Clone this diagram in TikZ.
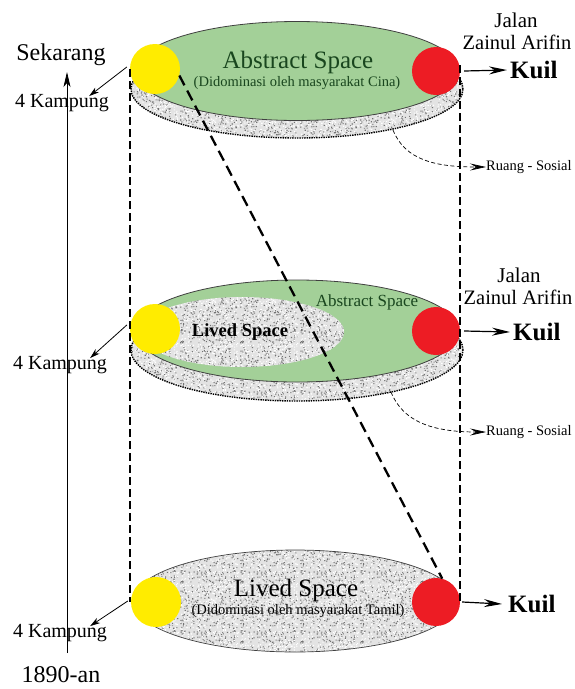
\documentclass[tikz,border=0pt]{standalone}
\usepackage{fontspec}
\setmainfont{Liberation Serif}
\usetikzlibrary{arrows.meta,patterns.meta}
\definecolor{lgreen}{RGB}{163,208,152}
\definecolor{dgreen}{RGB}{25,70,30}
\definecolor{cyel}{RGB}{255,236,0}
\definecolor{cred}{RGB}{237,28,36}
\newcommand\fs[1]{\fontsize{#1}{#1}\selectfont}
\pgfmathsetseed{4321}
\tikzdeclarepattern{
  name=noiseA, type=uncolored,
  bottom left={(0pt,0pt)}, top right={(60pt,60pt)}, tile size={(60pt,60pt)},
  code={\foreach \i in {1,...,330}{\pgfmathsetmacro\px{58.9*rnd}\pgfmathsetmacro\py{58.9*rnd}\fill (\px pt,\py pt) rectangle ++(1.1pt,1.1pt);}}
}
\tikzdeclarepattern{
  name=noiseB, type=uncolored,
  bottom left={(0pt,0pt)}, top right={(60pt,60pt)}, tile size={(60pt,60pt)},
  code={\foreach \i in {1,...,380}{\pgfmathsetmacro\px{58.9*rnd}\pgfmathsetmacro\py{58.9*rnd}\fill (\px pt,\py pt) rectangle ++(1.1pt,1.1pt);}}
}
\tikzset{
  stipple/.style={fill=gray!22, postaction={pattern=noiseA, pattern color=black!55}, postaction={pattern=noiseB, pattern color=white}},
  ybox/.style={circle, fill=cyel, minimum size=50pt, inner sep=0pt},
  rbox/.style={circle, fill=cred, minimum size=48pt, inner sep=0pt},
  greenell/.style={fill=lgreen, draw=black!75, line width=0.8pt},
  dotrim/.style={draw=black, densely dotted, line width=1.4pt},
  vdash/.style={draw=black, line width=1.8pt, dash pattern=on 8pt off 4pt},
  diagdash/.style={draw=black, line width=2.3pt, dash pattern=on 11pt off 6pt},
  kamparrow/.style={draw=black, line width=0.8pt, -{Stealth[length=10pt,width=6pt,inset=3pt]}},
  kuilarrow/.style={draw=black, line width=1.2pt, -{Stealth[length=18pt,width=8pt,inset=6pt]}},
  rsarrow/.style={draw=black, line width=0.7pt, dash pattern=on 4pt off 2.5pt, -{Stealth[length=16pt,width=7pt,inset=6pt]}},
  lbl/.style={inner sep=0pt, text=black},
}
\begin{document}
\begin{tikzpicture}[x=1pt, y=-1pt]
\useasboundingbox (0,0) rectangle (575,689);

% ---------- top level ----------
\path[stipple] (297,89) ellipse [x radius=166pt, y radius=49pt];
\draw[dotrim] (297,89) ellipse [x radius=166pt, y radius=49pt];
\draw[greenell] (297,71) ellipse [x radius=162pt, y radius=49.5pt];
\node[lbl, text=dgreen, font=\fs{25}] (abs1) at (298,62) {Abstract Space};
\node[lbl, text=dgreen, font=\fs{14.5}] (dom1) at (297,83) {(Didominasi oleh masyarakat Cina)};

% ---------- middle level ----------
\path[stipple] (297,350) ellipse [x radius=166pt, y radius=51pt];
\draw[dotrim] (297,350) ellipse [x radius=166pt, y radius=51pt];
\draw[greenell] (297,331) ellipse [x radius=162pt, y radius=51pt];
\path[stipple] (242,332) ellipse [x radius=102pt, y radius=35pt];
\node[lbl, font=\bfseries\fs{18.5}] (liv2) at (240,332) {Lived Space};
\node[lbl, text=dgreen, font=\fs{17}] (abs2) at (367,302) {Abstract Space};

% ---------- bottom level ----------
\path[stipple] (295,601) ellipse [x radius=162pt, y radius=51pt];
\draw[draw=black!75, line width=0.7pt] (295,601) ellipse [x radius=162pt, y radius=51pt];
\node[lbl, text=black, font=\fs{25}] (liv3) at (296,590) {Lived Space};
\node[lbl, text=black, font=\fs{14.5}] (dom3) at (298,611) {(Didominasi oleh masyarakat Tamil)};

% ---------- circles ----------
\node[ybox] (y1) at (155,69) {};
\node[rbox] (r1) at (436,71) {};
\node[ybox] (y2) at (155,329) {};
\node[rbox] (r2) at (436,331) {};
\node[ybox] (y3) at (156,602) {};
\node[rbox] (r3) at (436,602) {};

% ---------- dashed frame ----------
\draw[vdash] (y1.west) -- (y1.west |- y3.west);
\draw[vdash] ([yshift=6pt]r1.east) -- (r3.east);
\draw[diagdash] (y1.-15) -- (r3.75);

% ---------- timeline ----------
\node[lbl, font=\fs{24}] (sek) at (61,55) {Sekarang};
\node[lbl, font=\fs{24}] (yr) at (61,675) {1890-an};
\coordinate (tlb) at (67,653);
\coordinate (tlt) at (67,72);
\draw[line width=0.8pt, -{Stealth[length=15pt,width=7pt,inset=4pt]}] (tlb) -- (tlt);

% ---------- kampung labels ----------
\node[lbl, font=\fs{20}] (k1) at (62,103) {4 Kampung};
\node[lbl, font=\fs{20}] (k2) at (60,365) {4 Kampung};
\node[lbl, font=\fs{20}] (k3) at (60,633) {4 Kampung};
\draw[kamparrow] ([xshift=-3pt,yshift=2pt]y1.west) -- ([xshift=-20pt,yshift=-2pt]k1.north east);
\draw[kamparrow] ([xshift=-3pt,yshift=4pt]y2.west) -- ([xshift=-17pt,yshift=-2pt]k2.north east);
\draw[kamparrow] ([xshift=-3pt,yshift=1pt]y3.west) -- ([xshift=-17pt,yshift=-2pt]k3.north east);

% ---------- right labels ----------
\node[lbl, font=\fs{21}] (jal1) at (516,20) {Jalan};
\node[lbl, font=\fs{20.5}] (zai1) at (517,42) {Zainul Arifin};
\node[lbl, font=\bfseries\fs{25}, anchor=west] (kuil1) at (510,70) {Kuil};
\node[lbl, font=\fs{21}] (jal2) at (519,275) {Jalan};
\node[lbl, font=\fs{20.5}] (zai2) at (518,297) {Zainul Arifin};
\node[lbl, font=\bfseries\fs{25}, anchor=west] (kuil2) at (513,332) {Kuil};
\node[lbl, font=\bfseries\fs{25}, anchor=west] (kuil3) at (508,604) {Kuil};
\draw[kuilarrow] ([xshift=4pt]r1.east) -- ([xshift=-3pt]kuil1.west);
\draw[kuilarrow] ([xshift=4pt]r2.east) -- ([xshift=-3pt]kuil2.west);
\draw[kuilarrow] ([xshift=2pt]r3.east) -- ([xshift=-6pt]kuil3.west);

% ---------- ruang sosial ----------
\node[lbl, font=\fs{14.5}, anchor=west] (rs1) at (486,167) {Ruang - Sosial};
\node[lbl, font=\fs{14.5}, anchor=west] (rs2) at (486,432) {Ruang - Sosial};
\coordinate (rsa) at (393,130);
\coordinate (rsb) at (391,392);
\draw[rsarrow] (rsa) .. controls (405,160) and (435,167) .. (rs1.west);
\draw[rsarrow] (rsb) .. controls (403,422) and (433,432) .. (rs2.west);
\end{tikzpicture}
\end{document}
